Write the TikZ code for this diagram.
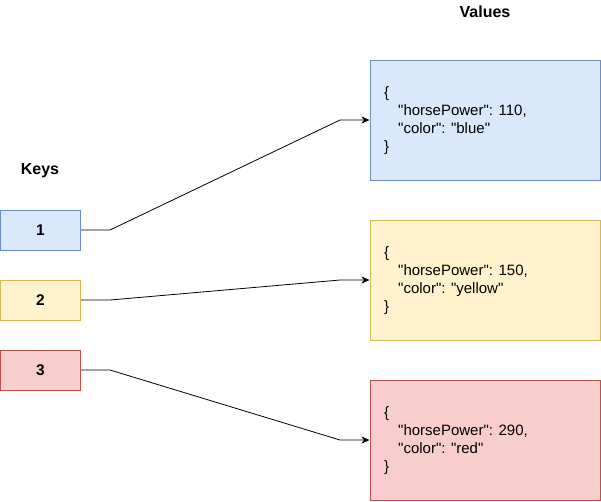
\documentclass[tikz,border=0pt]{standalone}
\usepackage{fontspec}
\setmainfont{Liberation Sans}[Ligatures=TeXOff]
\usetikzlibrary{arrows.meta}
\definecolor{bfill}{HTML}{DAE8FC}\definecolor{bline}{HTML}{6C8EBF}
\definecolor{yfill}{HTML}{FFF2CC}\definecolor{yline}{HTML}{D6B656}
\definecolor{rfill}{HTML}{F8CECC}\definecolor{rline}{HTML}{B85450}
\begin{document}
\begin{tikzpicture}[x=1pt,y=-1pt,
  keybox/.style={draw,line width=1pt,minimum width=80pt,minimum height=40pt,inner sep=0pt,font=\fontsize{15.5}{18}\selectfont\bfseries},
  valbox/.style={draw,line width=1pt,minimum width=230pt,minimum height=120pt,inner sep=0pt},
  valtext/.style={anchor=west,align=left,inner sep=0pt,font=\fontsize{15}{18}\selectfont},
  title/.style={font=\fontsize{16}{18}\selectfont\bfseries},
  conn/.style={line width=0.8pt,-{Stealth[length=8pt,width=7pt,inset=2.5pt]}}]
\useasboundingbox (0,0) rectangle (601,501);
\node[title] (values) at (485,12) {Values};
\node[title] (keys) at (40,171) {Keys};
\node[keybox,fill=bfill,draw=bline] (k1) at (40.5,230) {1};
\node[keybox,fill=yfill,draw=yline] (k2) at (40.5,300) {2};
\node[keybox,fill=rfill,draw=rline] (k3) at (40.5,370) {3};
\node[valbox,fill=bfill,draw=bline] (v1) at (485,120) {};
\node[valbox,fill=yfill,draw=yline] (v2) at (485,280) {};
\node[valbox,fill=rfill,draw=rline] (v3) at (485,440) {};
\node[valtext] (t1) at (384,121) {\{\\\hspace*{14pt}"horsePower": 110,\\\hspace*{14pt}"color": "blue"\\\}};
\node[valtext] (t2) at (384,281) {\{\\\hspace*{14pt}"horsePower": 150,\\\hspace*{14pt}"color": "yellow"\\\}};
\node[valtext] (t3) at (384,441) {\{\\\hspace*{14pt}"horsePower": 290,\\\hspace*{14pt}"color": "red"\\\}};
\coordinate (a1) at (110,230); \coordinate (b1) at (340,120);
\coordinate (a2) at (110,300); \coordinate (b2) at (340,280);
\coordinate (a3) at (110,370); \coordinate (b3) at (340,440);
\draw[conn] (k1.east) -- (a1) -- (b1) -- (v1.west);
\draw[conn] (k2.east) -- (a2) -- (b2) -- (v2.west);
\draw[conn] (k3.east) -- (a3) -- (b3) -- (v3.west);
\end{tikzpicture}
\end{document}
